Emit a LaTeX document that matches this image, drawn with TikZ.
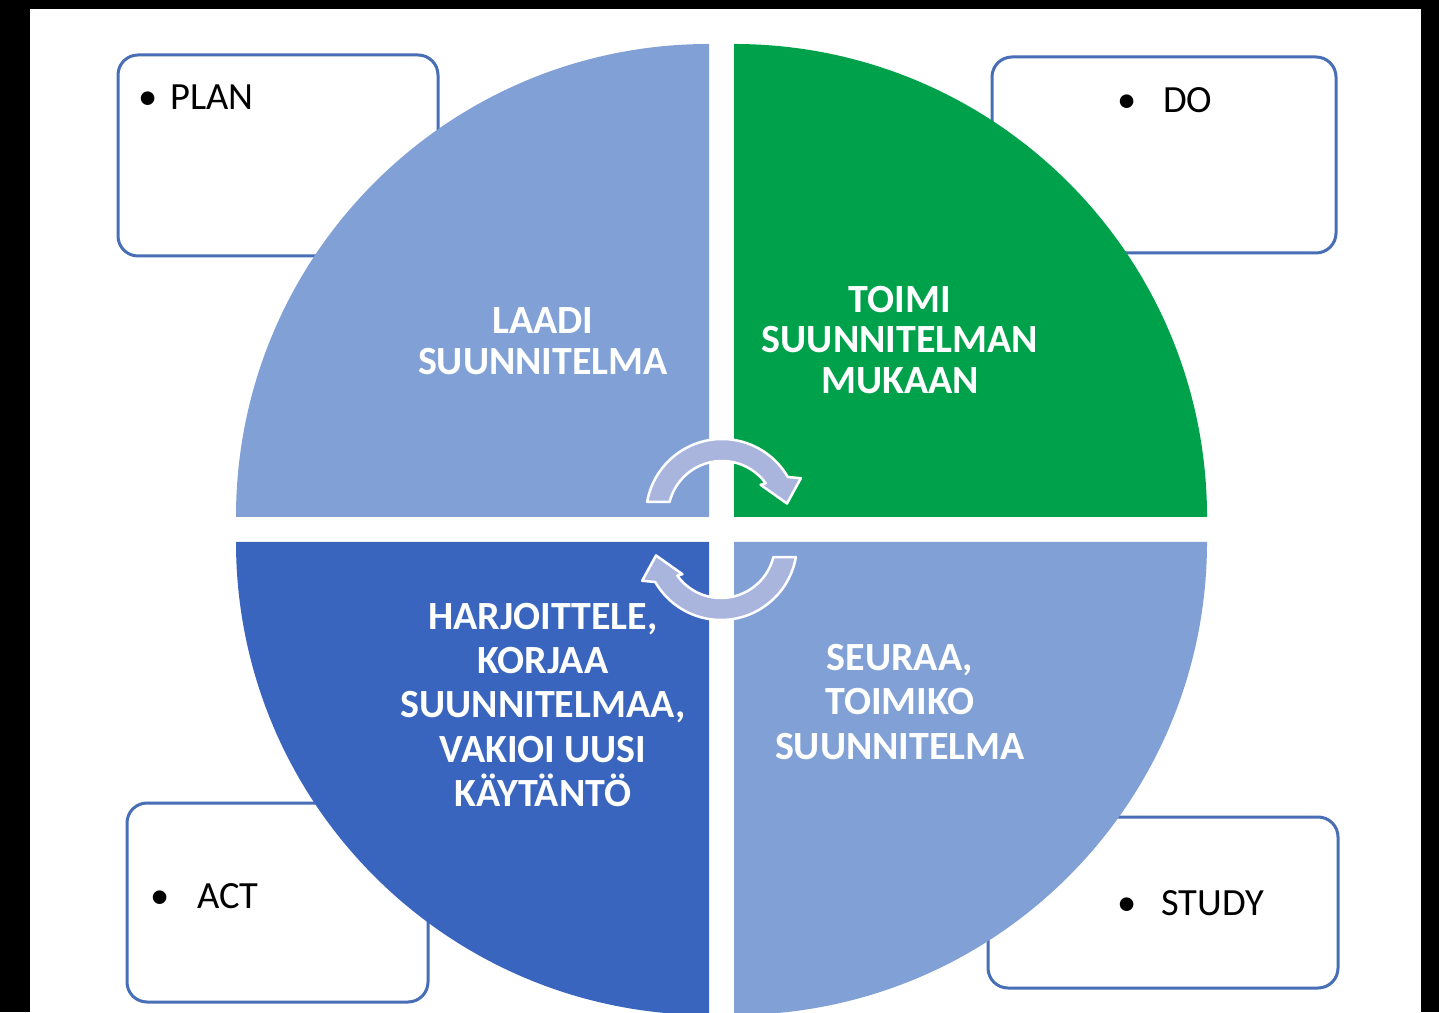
\documentclass[tikz,border=0pt]{standalone}
\usepackage{fontspec}
\setmainfont{Carlito}
\definecolor{qlight}{RGB}{128,160,214}
\definecolor{qgreen}{RGB}{0,161,75}
\definecolor{qdark}{RGB}{57,101,190}
\definecolor{boxline}{RGB}{72,110,182}
\definecolor{arrowfill}{RGB}{170,181,222}
\tikzset{
  labelbox/.style={draw=boxline, line width=3pt, fill=white, rounded corners=20pt, inner sep=0pt},
  boxtext/.style={anchor=base west, inner sep=0pt, font=\fontsize{38.5}{42}\selectfont, text=black},
  quadtext/.style={align=center, inner sep=0pt, text=white, font=\bfseries\fontsize{40}{40.5}\selectfont},
  quadtextb/.style={align=center, inner sep=0pt, text=white, font=\bfseries\fontsize{40}{44.3}\selectfont},
  cyclearrow/.style={fill=arrowfill, draw=white, line width=2.5pt, line join=round}
}
\begin{document}
\begin{tikzpicture}[x=1pt,y=1pt]
\useasboundingbox (0,0) rectangle (1439,1012);
\fill[white] (0,0) rectangle (1439,1012);

% outer boxes
\node[labelbox, minimum width=320pt, minimum height=201pt] (planbox) at (278,856.5) {};
\node[labelbox, minimum width=344pt, minimum height=196pt] (dobox) at (1164,857) {};
\node[labelbox, minimum width=301pt, minimum height=199pt] (actbox) at (277.5,109.5) {};
\node[labelbox, minimum width=350pt, minimum height=171pt] (studybox) at (1163,109.5) {};

% quadrants
\fill[qlight] (709,495) -- ++(-473pt,0) arc[start angle=180,end angle=90,radius=473pt] -- cycle;
\fill[qgreen] (734,495) -- ++(0,473pt) arc[start angle=90,end angle=0,radius=473pt] -- cycle;
\fill[qdark] (709,470) -- ++(0,-473pt) arc[start angle=270,end angle=180,radius=473pt] -- cycle;
\fill[qlight] (734,470) -- ++(473pt,0) arc[start angle=0,end angle=-90,radius=473pt] -- cycle;

% cycle arrows
\begin{scope}[shift={(722,497)}]
\path[cyclearrow] (170:76pt) arc[start angle=170,end angle=30,radius=76pt]
  -- (25:87pt) -- (10:66pt) -- (38:49pt) -- (36:54pt)
  arc[start angle=36,end angle=166,radius=54pt] -- cycle;
\end{scope}
\begin{scope}[shift={(721,468)}, rotate=180]
\path[cyclearrow] (170:76pt) arc[start angle=170,end angle=30,radius=76pt]
  -- (25:87pt) -- (10:66pt) -- (38:49pt) -- (36:54pt)
  arc[start angle=36,end angle=166,radius=54pt] -- cycle;
\end{scope}

% quadrant texts
\node[quadtext] (plantext) at (543,671) {LAADI\\SUUNNITELMA};
\node[quadtext] (dotext) at (900,672) {TOIMI\\SUUNNITELMAN\\MUKAAN};
\node[quadtextb] (acttext) at (543,307) {HARJOITTELE,\\KORJAA\\SUUNNITELMAA,\\VAKIOI UUSI\\KÄYTÄNTÖ};
\node[quadtextb] (studytext) at (900,310) {SEURAA,\\TOIMIKO\\SUUNNITELMA};

% box labels
\node[boxtext] (planlabel) at (148,902) {\makebox[0pt]{•}\hspace{22pt}PLAN};
\node[boxtext] (dolabel) at (1127,899) {\makebox[0pt]{•}\hspace{36pt}DO};
\node[boxtext] (actlabel) at (160,104) {\makebox[0pt]{•}\hspace{37pt}ACT};
\node[boxtext] (studylabel) at (1127,97) {\makebox[0pt]{•}\hspace{34pt}STUDY};

% black frame strips
\fill[black] (0,1003) rectangle (1439,1012);
\fill[black] (0,0) rectangle (30,1012);
\fill[black] (1421,0) rectangle (1439,1012);
\end{tikzpicture}
\end{document}
